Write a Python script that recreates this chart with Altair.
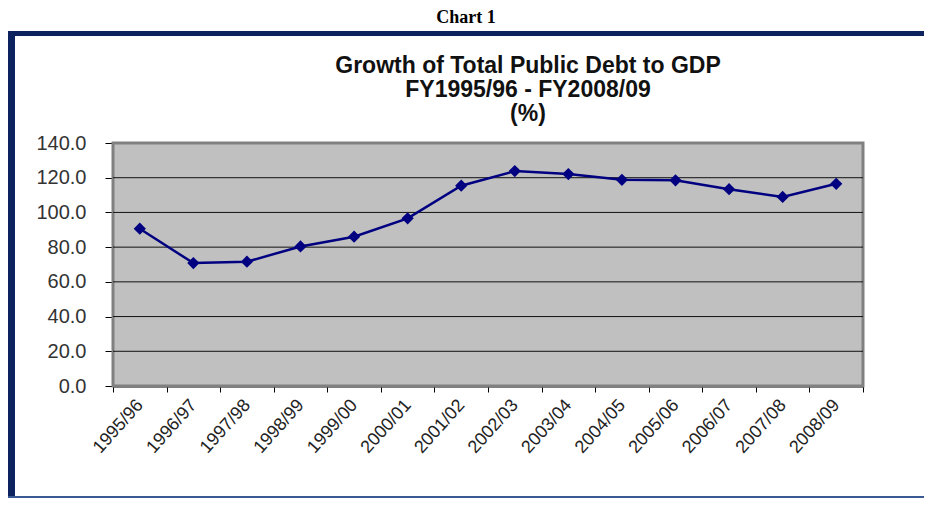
import altair as alt
import pandas as pd

years = ["1995/96", "1996/97", "1997/98", "1998/99", "1999/00", "2000/01", "2001/02",
         "2002/03", "2003/04", "2004/05", "2005/06", "2006/07", "2007/08", "2008/09"]
debt_to_gdp = [90.6, 70.8, 71.6, 80.4, 86.0, 96.6, 115.4,
               123.8, 122.1, 118.8, 118.5, 113.4, 108.9, 116.5]
y_ticks = [0, 20, 40, 60, 80, 100, 120, 140]
grid_values = [20, 40, 60, 80, 100, 120]
page_title = ["Chart 1"]
chart_title = ["Growth of Total Public Debt to GDP", "FY1995/96 - FY2008/09", "(%)"]

df = pd.DataFrame({"year": years, "value": debt_to_gdp})

W, H = 750, 243
FONT = "Liberation Sans"
NAVY = "#0d235f"

xenc = alt.X("year:N", sort=years, bandPosition=0.5,
             scale=alt.Scale(type="band", paddingInner=0, paddingOuter=0),
             axis=alt.Axis(title=None, labelAngle=-48, labelAlign="right", labelBaseline="middle",
                           labelFont=FONT, labelFontSize=18, labelColor="#222222",
                           labelPadding=10, tickBand="extent", tickSize=6, tickColor="#000000",
                           domainColor="#000000", domainWidth=2, grid=False))
yscale = alt.Scale(domain=[0, 140], nice=False)
yaxis = alt.Axis(title=None, values=y_ticks, format=".1f", labelFont=FONT,
                 labelFontSize=20, labelColor="#333333", labelPadding=19,
                 tickSize=8, tickColor="#000000", domainColor="#606060",
                 domainWidth=2, grid=False)
yenc = alt.Y("value:Q", scale=yscale, axis=yaxis)

one = pd.DataFrame({"k": [0]})

bg = alt.Chart(one).mark_rect(color="#c0c0c0", stroke="#808080", strokeWidth=3).encode(
    x=alt.value(0), x2=alt.value(W), y=alt.value(0), y2=alt.value(H))

grid = alt.Chart(pd.DataFrame({"g": grid_values})).mark_rule(
    color="#111111", strokeWidth=1).encode(y=alt.Y("g:Q", scale=yscale, axis=yaxis))

line = alt.Chart(df).mark_line(color="#000080", strokeWidth=2.5).encode(x=xenc, y=yenc)
pts = alt.Chart(df).mark_point(shape="diamond", filled=True, color="#000080",
                               size=150, opacity=1).encode(x=xenc, y=yenc)

def band(x, x2, y, y2, color):
    return alt.Chart(one).mark_rect(color=color, clip=False).encode(
        x=alt.value(x), x2=alt.value(x2), y=alt.value(y), y2=alt.value(y2))

frame_top = band(-105, 820, -112, -107, NAVY)
frame_left = band(-105, -98, -112, 355, NAVY)
frame_bottom = band(-105, 820, 353, 355, "#3a5a94")

t0 = alt.Chart(pd.DataFrame({"t": page_title})).mark_text(
    font="Liberation Serif", fontWeight="bold", fontSize=18, color="#000000",
    align="center", baseline="alphabetic").encode(
    text="t:N", x=alt.value(353), y=alt.value(-120))

titles = []
for txt, yy, fs in zip(chart_title, [-70, -46, -22], [23, 23, 23]):
    titles.append(alt.Chart(pd.DataFrame({"t": [txt]})).mark_text(
        font=FONT, fontWeight="bold", fontSize=fs, color="#111111",
        align="center", baseline="alphabetic").encode(
        text="t:N", x=alt.value(415), y=alt.value(yy)))

chart = alt.layer(bg, grid, frame_top, frame_left, frame_bottom, t0, *titles, line, pts).properties(
    width=W, height=H,
    autosize=alt.AutoSizeParams(type="none"),
    padding={"left": 105, "top": 135, "right": 61, "bottom": 112},
).configure_view(stroke=None).configure(background="white")

chart.save("out.html", embed_options={"renderer": "svg", "actions": False})
